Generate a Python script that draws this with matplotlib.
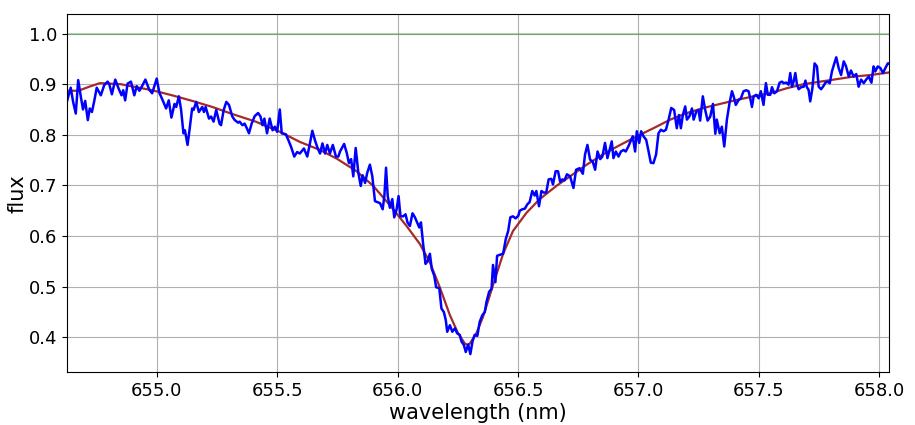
import numpy as np
import matplotlib
matplotlib.use("Agg")
import matplotlib.pyplot as plt

wl_obs = [654.625, 654.643, 654.653, 654.664, 654.674, 654.685, 654.694, 654.703, 654.714, 654.722,
          654.731, 654.740, 654.751, 654.768, 654.782, 654.796, 654.803, 654.814, 654.828, 654.842,
          654.854, 654.861, 654.869, 654.879, 654.893, 654.907, 654.917, 654.928, 654.939, 654.953,
          654.969, 654.981, 655.000, 655.011, 655.025, 655.039, 655.050, 655.061, 655.074, 655.081,
          655.092, 655.101, 655.111, 655.117, 655.128, 655.136, 655.147, 655.153, 655.164, 655.175,
          655.189, 655.196, 655.203, 655.217, 655.226, 655.236, 655.247, 655.261, 655.267, 655.278,
          655.289, 655.300, 655.314, 655.324, 655.338, 655.344, 655.356, 655.365, 655.375, 655.383,
          655.394, 655.407, 655.421, 655.431, 655.439, 655.447, 655.458, 655.469, 655.481, 655.490,
          655.500, 655.511, 655.519, 655.536, 655.547, 655.558, 655.571, 655.583, 655.594, 655.611,
          655.625, 655.636, 655.646, 655.657, 655.667, 655.678, 655.688, 655.699, 655.708, 655.719,
          655.731, 655.744, 655.754,
          655.761, 655.778, 655.789, 655.798, 655.807, 655.816, 655.826, 655.837, 655.847, 655.855,
          655.865, 655.874, 655.885, 655.895, 655.906, 655.917, 655.927, 655.938, 655.945, 655.952,
          655.959, 655.968, 655.978, 655.986, 655.996, 656.004, 656.012, 656.023, 656.033, 656.041,
          656.051, 656.062, 656.072, 656.081, 656.090, 656.097, 656.106, 656.116, 656.124, 656.134,
          656.142, 656.152, 656.160, 656.173, 656.182, 656.192, 656.200, 656.206, 656.217, 656.227,
          656.238, 656.247, 656.258, 656.265, 656.275, 656.283, 656.293, 656.302, 656.311, 656.320,
          656.331, 656.341, 656.352, 656.362, 656.369, 656.380, 656.390, 656.396, 656.406, 656.413,
          656.424, 656.438, 656.449, 656.459, 656.468, 656.479, 656.490, 656.501, 656.507, 656.518,
          656.528, 656.539, 656.548, 656.559, 656.569, 656.576, 656.587, 656.597, 656.606, 656.617,
          656.627, 656.638, 656.645, 656.656, 656.666, 656.675, 656.684, 656.693, 656.703,
          656.716, 656.730, 656.741, 656.755, 656.769, 656.778, 656.788, 656.799, 656.810, 656.820,
          656.830, 656.841, 656.850, 656.861, 656.871, 656.880, 656.889, 656.896, 656.906, 656.917,
          656.927, 656.938, 656.947, 656.958, 656.970, 656.976, 656.986, 656.993, 657.003, 657.011,
          657.021, 657.032, 657.042, 657.051, 657.062, 657.073, 657.083, 657.093, 657.104, 657.114,
          657.125, 657.136, 657.148, 657.159, 657.168, 657.176, 657.184, 657.194, 657.201, 657.211,
          657.222, 657.229, 657.240, 657.249, 657.256, 657.267, 657.277, 657.287, 657.298, 657.309,
          657.319, 657.325, 657.337, 657.346, 657.356, 657.367, 657.378, 657.388, 657.395, 657.404,
          657.416, 657.425, 657.436, 657.447, 657.457, 657.464, 657.471, 657.478, 657.489, 657.499,
          657.508, 657.519, 657.529, 657.537, 657.547, 657.554, 657.564, 657.575, 657.586, 657.596,
          657.602, 657.614, 657.623, 657.630, 657.637, 657.644, 657.651, 657.658, 657.665, 657.675,
          657.686, 657.693, 657.699, 657.706, 657.713, 657.722, 657.731, 657.741, 657.748, 657.758,
          657.766, 657.776, 657.785, 657.794, 657.803, 657.813, 657.821, 657.831, 657.841, 657.852,
          657.861, 657.873, 657.882, 657.893, 657.904, 657.914, 657.924, 657.935, 657.945, 657.956,
          657.967, 657.976, 657.983, 657.993, 658.004, 658.015, 658.025, 658.035, 658.039]

flux_obs = [0.862, 0.893, 0.865, 0.842, 0.908, 0.875, 0.850, 0.867, 0.829, 0.852,
            0.845, 0.865, 0.893, 0.878, 0.898, 0.905, 0.900, 0.880, 0.909, 0.891,
            0.878, 0.888, 0.868, 0.901, 0.905, 0.878, 0.896, 0.887, 0.896, 0.909,
            0.889, 0.882, 0.911, 0.883, 0.868, 0.852, 0.868, 0.834, 0.861, 0.855,
            0.876, 0.850, 0.803, 0.809, 0.780, 0.809, 0.852, 0.849, 0.865, 0.845,
            0.855, 0.845, 0.855, 0.832, 0.836, 0.826, 0.849, 0.822, 0.819, 0.849,
            0.865, 0.859, 0.836, 0.829, 0.824, 0.826, 0.819, 0.822, 0.812, 0.803,
            0.822, 0.837, 0.843, 0.836, 0.819, 0.832, 0.803, 0.832, 0.809, 0.816,
            0.806, 0.850, 0.803, 0.801, 0.789, 0.776, 0.757, 0.766, 0.763, 0.773,
            0.757, 0.783, 0.808, 0.789, 0.775, 0.763, 0.783, 0.763, 0.780, 0.763,
            0.780, 0.757, 0.757,
            0.767, 0.782, 0.764, 0.744, 0.752, 0.718, 0.774, 0.725, 0.699, 0.720,
            0.705, 0.725, 0.741, 0.718, 0.669, 0.667, 0.665, 0.653, 0.679, 0.735,
            0.679, 0.656, 0.673, 0.637, 0.653, 0.679, 0.639, 0.639, 0.643, 0.627,
            0.620, 0.645, 0.637, 0.627, 0.617, 0.627, 0.584, 0.545, 0.550, 0.565,
            0.535, 0.522, 0.499, 0.497, 0.457, 0.450, 0.434, 0.411, 0.424, 0.411,
            0.418, 0.408, 0.405, 0.392, 0.385, 0.371, 0.386, 0.367, 0.392, 0.405,
            0.403, 0.431, 0.444, 0.450, 0.470, 0.490, 0.496, 0.543, 0.509, 0.561,
            0.563, 0.565, 0.594, 0.610, 0.637, 0.639, 0.635, 0.640, 0.650, 0.653,
            0.654, 0.663, 0.667, 0.689, 0.680, 0.689, 0.659, 0.689, 0.686, 0.686,
            0.712, 0.713, 0.702, 0.728, 0.728, 0.707, 0.712, 0.710, 0.722,
            0.718, 0.695, 0.731, 0.734, 0.723, 0.761, 0.780, 0.751, 0.747, 0.731,
            0.767, 0.752, 0.757, 0.784, 0.754, 0.770, 0.787, 0.754, 0.767, 0.757,
            0.767, 0.770, 0.767, 0.777, 0.790, 0.797, 0.767, 0.807, 0.784, 0.807,
            0.797, 0.790, 0.767, 0.745, 0.744, 0.761, 0.803, 0.810, 0.807, 0.810,
            0.830, 0.853, 0.849, 0.813, 0.839, 0.813, 0.839, 0.856, 0.830, 0.836,
            0.852, 0.830, 0.846, 0.849, 0.828, 0.876, 0.849, 0.828, 0.836, 0.861,
            0.802, 0.830, 0.803, 0.816, 0.777, 0.830, 0.863, 0.886, 0.876, 0.859,
            0.869, 0.872, 0.886, 0.888, 0.886, 0.872, 0.855, 0.876, 0.879, 0.872,
            0.886, 0.859, 0.902, 0.879, 0.879, 0.894, 0.882, 0.886, 0.903, 0.905,
            0.902, 0.903, 0.899, 0.922, 0.895, 0.905, 0.922, 0.899, 0.890, 0.894,
            0.895, 0.907, 0.894, 0.889, 0.866, 0.892, 0.941, 0.935, 0.895, 0.890,
            0.895, 0.903, 0.905, 0.902, 0.925, 0.941, 0.953, 0.932, 0.918, 0.945,
            0.936, 0.915, 0.927, 0.915, 0.920, 0.895, 0.909, 0.902, 0.909, 0.915,
            0.903, 0.935, 0.925, 0.935, 0.932, 0.922, 0.932, 0.941, 0.941]

# perfil ajustado (modelo)
wl_mod = [654.625, 654.675, 654.720, 654.764, 654.850, 654.981, 655.064, 655.147, 655.231, 655.314,
          655.411, 655.511, 655.594, 655.678, 655.747, 655.830, 655.899, 655.968, 656.037, 656.093,
          656.134, 656.175, 656.217, 656.251, 656.279, 656.290, 656.300, 656.327, 656.355, 656.396,
          656.438, 656.479, 656.535, 656.590, 656.659, 656.728, 656.785, 656.855, 656.924, 656.993,
          657.062, 657.132, 657.201, 657.270, 657.339, 657.409, 657.478, 657.547, 657.616, 657.686,
          657.755, 657.824, 657.893, 657.963, 658.039]
flux_mod = [0.887, 0.887, 0.895, 0.902, 0.900, 0.888, 0.878, 0.867, 0.855, 0.841,
            0.826, 0.806, 0.786, 0.770, 0.753, 0.728, 0.699, 0.661, 0.620, 0.584,
            0.548, 0.499, 0.444, 0.408, 0.388, 0.385, 0.388, 0.408, 0.441, 0.503,
            0.565, 0.610, 0.646, 0.673, 0.699, 0.722, 0.741, 0.762, 0.780, 0.797,
            0.813, 0.830, 0.843, 0.853, 0.861, 0.869, 0.876, 0.882, 0.892, 0.900,
            0.905, 0.910, 0.915, 0.918, 0.923]

continuo = 1.0
xlim = (654.629, 658.04)
ylim = (0.331, 1.038)

fig = plt.figure(figsize=(9.15, 4.25), dpi=100)
ax = fig.add_axes([0.0736, 0.124, 0.898, 0.8424])

ax.axhline(continuo, color='g', alpha=0.3, lw=1.5)
ax.plot(wl_mod, flux_mod, color='brown', lw=1.6)
ax.plot(wl_obs, flux_obs, color='b', lw=1.8)

ax.set_xlim(*xlim)
ax.set_ylim(*ylim)
ax.set_yticks(np.arange(0.4, 1.01, 0.1))
ax.tick_params(labelsize=13)
ax.set_xlabel("wavelength (nm)", fontsize=15, labelpad=2)
ax.set_ylabel("flux", fontsize=15, labelpad=1.5)
ax.grid()

fig.savefig("out.png", dpi=100)
